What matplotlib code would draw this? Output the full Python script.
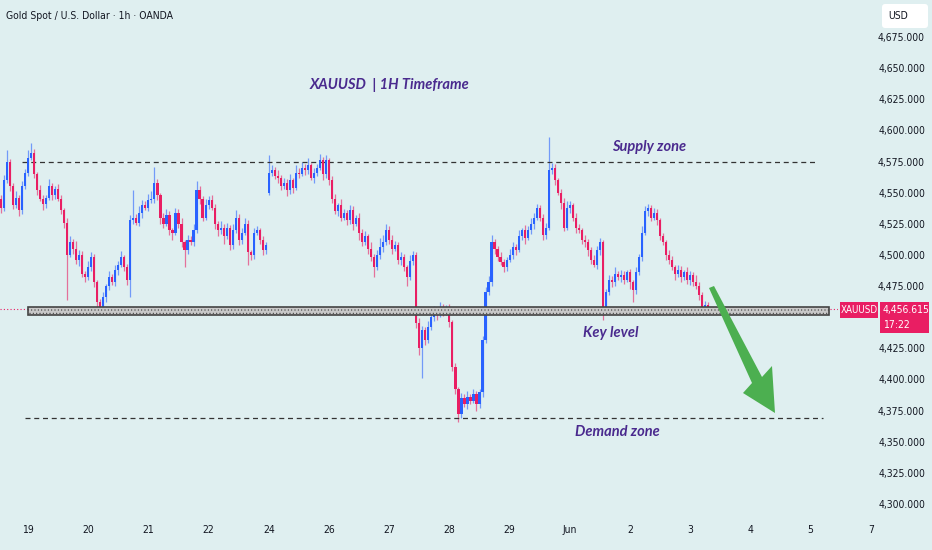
import numpy as np
import matplotlib.pyplot as plt
import matplotlib.transforms as mtransforms
from matplotlib import font_manager as fm
from matplotlib.patches import Polygon, Rectangle, FancyBboxPatch

# --- dados ---
closes = [
    4538, 4560, 4575, 4555, 4540, 4546, 4536, 4555, 4566, 4578,
    4582, 4565, 4552, 4545, 4541, 4546, 4555, 4548, 4553, 4545,
    4536, 4526, 4500, 4510, 4505, 4496, 4500, 4485, 4482, 4490,
    4498, 4478, 4462, 4456, 4466, 4475, 4482, 4478, 4488, 4492,
    4498, 4490, 4480, 4528, 4530, 4526, 4534, 4540, 4538, 4544,
    4545, 4558, 4548, 4530, 4525, 4532, 4520, 4518, 4534, 4525,
    4510, 4504, 4512, 4510, 4520, 4552, 4545, 4530, 4540, 4544,
    4538, 4525, 4520, 4522, 4515, 4522, 4508, 4520, 4530, 4512,
    4518, 4525, 4502, 4500, 4518, 4520, 4512, 4504, 4508, 4566,
    4568, 4563, 4562, 4555, 4558, 4552, 4560, 4554, 4566, 4565,
    4570, 4568, 4572, 4562, 4566, 4570, 4576, 4565, 4576, 4560,
    4545, 4535, 4540, 4530, 4534, 4528, 4536, 4525, 4530, 4518,
    4510, 4515, 4505, 4498, 4490, 4500, 4506, 4510, 4520, 4512,
    4505, 4508, 4496, 4498, 4490, 4482, 4495, 4500, 4445, 4425,
    4440, 4432, 4442, 4450, 4455, 4452, 4458, 4454, 4458, 4446,
    4410, 4392, 4372, 4385, 4380, 4386, 4383, 4388, 4380, 4390,
    4432, 4470, 4478, 4510, 4505, 4498, 4494, 4490, 4496, 4500,
    4506, 4504, 4515, 4520, 4514, 4520, 4525, 4530, 4538, 4530,
    4516, 4522, 4568, 4570, 4560, 4550, 4542, 4522, 4538, 4540,
    4530, 4522, 4520, 4512, 4510, 4504, 4496, 4492, 4504, 4510,
    4456, 4470, 4480, 4478, 4485, 4482, 4484, 4480, 4486, 4478,
    4472, 4486, 4498, 4518, 4535, 4538, 4530, 4534, 4528, 4515,
    4510, 4500, 4496, 4490, 4485, 4488, 4482, 4486, 4480, 4484,
    4478, 4475, 4468, 4456, 4460, 4456.615,
]
upper_wick = [
    3, 4, 9, 2, 3, 5, 2, 4, 3, 6,
    8, 3, 2, 4, 3, 2, 6, 3, 2, 4,
    3, 2, 4, 5, 3, 6, 4, 3, 2, 5,
    4, 3, 2, 3, 4, 2, 5, 3, 4, 3,
    5, 2, 3, 4, 22, 3, 5, 4, 3, 5,
    6, 13, 3, 2, 4, 5, 3, 2, 4, 3,
    5, 2, 4, 3, 5, 7, 3, 2, 5, 3,
    4, 3, 2, 5, 3, 4, 2, 5, 6, 3,
    4, 5, 3, 2, 4, 3, 2, 3, 2, 14,
    4, 3, 5, 2, 4, 3, 5, 2, 6, 4,
    5, 3, 6, 2, 4, 3, 5, 3, 4, 2,
    3, 4, 2, 5, 3, 2, 4, 3, 2, 4,
    3, 4, 2, 5, 3, 4, 8, 6, 5, 3,
    4, 3, 2, 4, 3, 2, 5, 3, 2, 4,
    3, 2, 5, 3, 4, 3, 4, 3, 2, 3,
    2, 3, 2, 4, 3, 5, 2, 4, 3, 2,
    3, 4, 5, 6, 3, 2, 4, 3, 2, 5,
    4, 3, 5, 2, 4, 3, 5, 4, 3, 2,
    3, 4, 27, 4, 3, 2, 3, 4, 5, 3,
    2, 4, 3, 2, 4, 3, 2, 4, 3, 4,
    2, 3, 4, 3, 5, 2, 4, 3, 2, 3,
    2, 4, 3, 5, 4, 3, 2, 4, 3, 2,
    3, 2, 4, 3, 2, 4, 3, 2, 4, 3,
    2, 6, 3, 2, 3, 2,
]
lower_wick = [
    4, 3, 2, 4, 3, 2, 5, 3, 2, 3,
    2, 3, 4, 2, 5, 3, 2, 4, 3, 2,
    3, 4, 36, 2, 4, 3, 5, 3, 4, 2,
    3, 4, 9, 3, 2, 4, 3, 2, 3, 4,
    2, 3, 4, 14, 3, 2, 3, 4, 2, 3,
    2, 3, 4, 5, 3, 2, 4, 6, 2, 3,
    4, 14, 3, 2, 3, 2, 4, 3, 2, 3,
    2, 4, 5, 3, 6, 2, 4, 3, 2, 4,
    3, 2, 10, 4, 3, 2, 3, 4, 3, 2,
    3, 2, 4, 3, 2, 5, 3, 4, 2, 3,
    2, 4, 3, 2, 4, 3, 2, 5, 3, 4,
    3, 2, 4, 3, 2, 4, 3, 5, 2, 6,
    3, 2, 4, 3, 8, 2, 3, 4, 2, 3,
    4, 2, 3, 4, 3, 7, 2, 3, 4, 5,
    24, 4, 3, 2, 3, 4, 2, 3, 2, 4,
    3, 4, 6, 3, 2, 4, 3, 2, 5, 3,
    4, 3, 2, 3, 4, 3, 2, 4, 3, 2,
    3, 4, 2, 3, 5, 2, 3, 4, 2, 3,
    4, 3, 2, 3, 4, 2, 5, 3, 2, 4,
    3, 4, 2, 3, 4, 5, 3, 2, 3, 4,
    8, 3, 2, 4, 3, 2, 4, 3, 2, 5,
    10, 3, 2, 3, 2, 4, 3, 2, 4, 3,
    2, 4, 3, 2, 5, 3, 4, 2, 3, 4,
    3, 2, 4, 3, 2, 2,
]
first_open = 4545
gap_opens = {89: 4550}  # abertura após o fim de semana

day_labels = ["19", "20", "21", "22", "24", "26", "27", "28", "29", "Jun",
              "2", "3", "4", "5", "7"]
day_start_bar = [9, 29, 49, 69, 89, 109, 129, 149, 169, 189, 209, 229, 249, 269, 289]

price_ticks = [4300, 4325, 4350, 4375, 4400, 4425, 4450, 4475, 4500,
               4525, 4550, 4575, 4600, 4625, 4650, 4675]

supply_level = 4575
demand_level = 4369
key_low, key_high = 4451.5, 4458.5
last_price = 4456.615
last_time = "17:22"

# --- estilo ---
BG = "#dfeff0"
BULL = "#2962ff"
BEAR = "#e91e63"
PURPLE = "#4a2a8e"
TXT = "#131722"
ANNOT = dict(family=["Lato", "DejaVu Sans"], style="italic", weight="bold",
             color=PURPLE)

# fonte estreita para os textos do eixo (se existir DejaVu Condensed)
arq = fm.findfont(fm.FontProperties(family="DejaVu Sans", stretch="condensed"))
if "Condensed" in arq:
    NARROW = dict(family="DejaVu Sans", stretch="condensed")
    FS = 7.5
else:
    NARROW = dict(family="Roboto")
    FS = 7

W, H = 932, 550
fig = plt.figure(figsize=(W / 100, H / 100), dpi=100, facecolor=BG)
ax = fig.add_axes([0, 35 / H, 838 / W, 515 / H], facecolor=BG)

opens = [first_open] + closes[:-1]
for i, v in gap_opens.items():
    opens[i] = v
o = np.array(opens, dtype=float)
c = np.array(closes, dtype=float)
x = np.arange(len(c))
hi = np.maximum(o, c) + np.array(upper_wick)
lo = np.minimum(o, c) - np.array(lower_wick)
cores = np.where(c >= o, BULL, BEAR)

ax.axhline(last_price, color=BEAR, lw=0.8, ls=(0, (1, 2)), zorder=1)
ax.vlines(x, lo, hi, colors=cores, lw=0.9, alpha=0.6, zorder=2)
ax.bar(x, np.maximum(np.abs(c - o), 0.8), bottom=np.minimum(o, c), width=0.72,
       color=cores, linewidth=0, zorder=3)

# zonas
ax.hlines(supply_level, 7, 271, colors="#333333", lw=0.9, ls=(0, (4, 3)), zorder=2)
ax.hlines(demand_level, 8, 273, colors="#333333", lw=0.9, ls=(0, (4, 3)), zorder=2)
plt.rcParams["hatch.linewidth"] = 0.4
ax.add_patch(Rectangle((9, key_low), 266, key_high - key_low, facecolor="#c8c8c8",
                       edgecolor="#444444", lw=1.2, hatch=".....", zorder=4))

ax.set_xlim(-0.3, 278.1)
ax.set_ylim(4291.2, 4704.7)
for s in ax.spines.values():
    s.set_visible(False)
ax.set_xticks([])
ax.yaxis.tick_right()
ax.set_yticks(price_ticks)
# o rótulo 4,450 fica escondido atrás da etiqueta do último preço
ax.set_yticklabels(["" if abs(p - last_price) < 12 else f"{p:,.3f}" for p in price_ticks])
ax.tick_params(axis="y", length=0, pad=(925 - 838) * 0.72, labelsize=FS,
               labelcolor=TXT)
for lab in ax.get_yticklabels():
    lab.set_horizontalalignment("right")
    lab.set_fontproperties(fm.FontProperties(size=FS, **NARROW))

# rótulos de data
tr = mtransforms.blended_transform_factory(ax.transData, fig.transFigure)
for b, lab in zip(day_start_bar, day_labels):
    ax.text(b, 1 - 530 / H, lab, transform=tr, ha="center", va="center",
            fontsize=FS, color=TXT, clip_on=False, **NARROW)

# textos
fig.text(6 / W, 1 - 16 / H, "Gold Spot / U.S. Dollar · 1h · OANDA", fontsize=FS,
         color=TXT, va="center", **NARROW)
ax.text(389 / 838, 1 - 85 / 515, "XAUUSD  | 1H Timeframe", transform=ax.transAxes,
        ha="center", va="center", fontsize=10.5, **ANNOT)
ax.text(649 / 838, 1 - 147 / 515, "Supply zone", transform=ax.transAxes,
        ha="center", va="center", fontsize=10.5, **ANNOT)
ax.text(611 / 838, 1 - 333 / 515, "Key level", transform=ax.transAxes,
        ha="center", va="center", fontsize=10.5, **ANNOT)
ax.text(617 / 838, 1 - 432 / 515, "Demand zone", transform=ax.transAxes,
        ha="center", va="center", fontsize=10.5, **ANNOT)

# seta verde (coordenadas em pixels da figura)
px = mtransforms.Affine2D().scale(1 / W, -1 / H).translate(0, 1) + fig.transFigure
seta = [(709, 288), (714, 286), (762, 377), (772, 366), (775, 413), (743, 393), (752, 383)]
fig.patches.append(Polygon(seta, closed=True, facecolor="#4caf50", edgecolor="none",
                           transform=px, zorder=5))

# caixas do eixo de preço
fig.patches.append(Rectangle((840, 302), 38, 16, facecolor=BEAR, edgecolor="none",
                             transform=px, zorder=5))
fig.patches.append(Rectangle((880, 302), 49, 31, facecolor=BEAR, edgecolor="none",
                             transform=px, zorder=5))
fig.patches.append(FancyBboxPatch((882, 4), 46, 24, boxstyle="round,pad=0,rounding_size=3",
                                  facecolor="white", edgecolor="none", transform=px,
                                  zorder=5))
fig.text(859 / W, 1 - 310 / H, "XAUUSD", ha="center", va="center", fontsize=FS - 0.5,
         color="white", zorder=6, **NARROW)
fig.text(883 / W, 1 - 310 / H, f"{last_price:,.3f}", ha="left", va="center",
         fontsize=FS, color="white", zorder=6, **NARROW)
fig.text(883 / W, 1 - 325 / H, last_time, ha="left", va="center", fontsize=FS,
         color="white", zorder=6, **NARROW)
fig.text(888 / W, 1 - 16 / H, "USD", ha="left", va="center", fontsize=FS,
         color=TXT, zorder=6, **NARROW)

fig.savefig("out.png", dpi=100, facecolor=BG)
